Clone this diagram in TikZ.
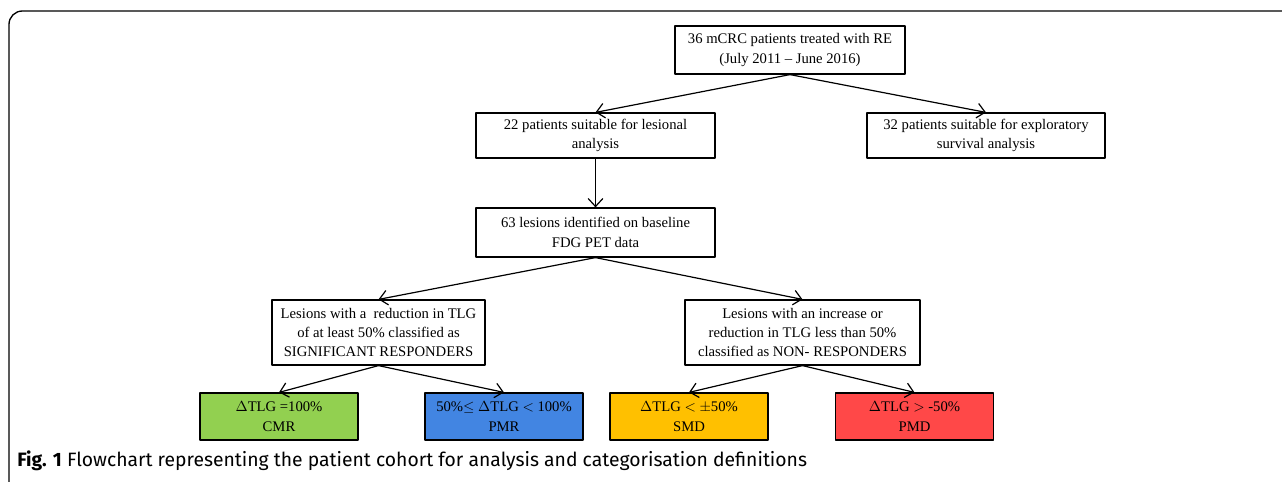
\documentclass[tikz,border=0pt]{standalone}
\usepackage{fontspec}
\setmainfont{Liberation Serif}
\newfontfamily\capfont{Fira Sans}
\usetikzlibrary{arrows.meta}
\definecolor{cmrgreen}{RGB}{146,208,80}
\definecolor{pmrblue}{RGB}{66,133,226}
\definecolor{smdorange}{RGB}{255,192,0}
\definecolor{pmdred}{RGB}{255,72,72}
\def\px{0.75pt}
\tikzset{
  box/.style={draw, line width=0.9pt, align=center, inner sep=0pt, font=\fontsize{11}{14.5}\selectfont},
  catbox/.style={box, minimum width=158*\px, minimum height=47*\px},
  conn/.style={-{Straight Barb[length=6pt,width=11pt]}, line width=0.9pt}
}
\begin{document}
\begin{tikzpicture}[x=\px, y=-\px, line join=round, line cap=round]
  \useasboundingbox (0,0) rectangle (1282,482);
  % frame
  \draw[line width=1pt, rounded corners=10] (1282,11) -- (9,11) -- (9,482);
  % cohort
  \node[box, minimum width=230*\px, minimum height=48*\px] (all) at (790,50) {36 mCRC patients treated with RE\\(July 2011 -- June 2016)};
  \node[box, minimum width=239*\px, minimum height=45*\px] (lesional) at (595.5,135.5) {22 patients suitable for lesional\\analysis};
  \node[box, minimum width=238*\px, minimum height=45*\px] (survival) at (986,135.5) {32 patients suitable for exploratory\\survival analysis};
  \node[box, minimum width=239*\px, minimum height=49*\px] (lesions) at (595.5,232.5) {63 lesions identified on baseline\\FDG PET data};
  % response groups
  \node[box, minimum width=213*\px, minimum height=65*\px] (resp) at (378.5,332.5) {Lesions with a\ \ reduction in TLG\\of at least 50\% classified as\\SIGNIFICANT RESPONDERS};
  \node[box, minimum width=235*\px, minimum height=65*\px] (nonresp) at (802.5,332.5) {Lesions with an increase or\\reduction in TLG less than 50\%\\classified as NON- RESPONDERS};
  % categories
  \node[catbox, fill=cmrgreen] (cmr) at (279,416.5) {$\Delta$TLG =100\%\\CMR};
  \node[catbox, fill=pmrblue] (pmr) at (504,416.5) {50\%$\leq$ $\Delta$TLG $<$ 100\%\\PMR};
  \node[catbox, fill=smdorange] (smd) at (689,416.5) {$\Delta$TLG $<$ $\pm$50\%\\SMD};
  \node[catbox, fill=pmdred] (pmd) at (914.5,416.5) {$\Delta$TLG $>$ -50\%\\PMD};
  \draw[conn] (all.south) -- (lesional.north);
  \draw[conn] (all.south) -- (survival.north);
  \draw[conn] (lesional.south) -- (lesions.north);
  \draw[conn] (lesions.south) -- (resp.north);
  \draw[conn] (lesions.south) -- (nonresp.north);
  \draw[conn] (resp.south) -- (cmr.north);
  \draw[conn] (resp.south) -- (pmr.north);
  \draw[conn] (nonresp.south) -- (smd.north);
  \draw[conn] (nonresp.south) -- (pmd.north);
  % caption
  \node[anchor=base west, inner sep=0pt, font=\capfont\fontsize{14.5}{16}\selectfont] (caption) at (17,466) {\textbf{Fig. 1} Flowchart representing the patient cohort for analysis and categorisation definitions};
\end{tikzpicture}
\end{document}
